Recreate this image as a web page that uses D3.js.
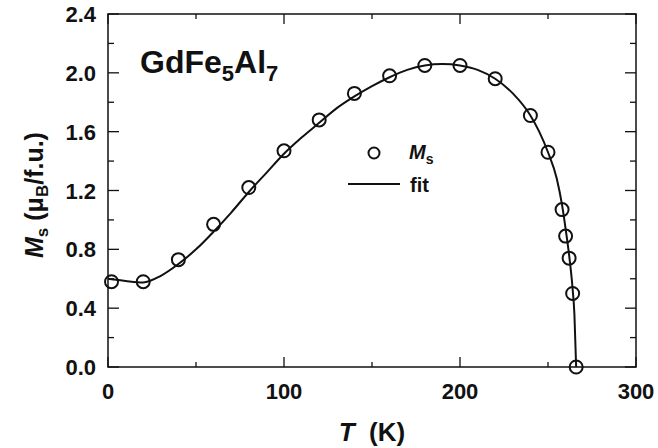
<!DOCTYPE html>
<html>
<head>
<meta charset="utf-8">
<script src="https://cdn.jsdelivr.net/npm/d3@7"></script>
<style>
  html, body { margin: 0; padding: 0; background: #fff; }
  svg { display: block; }
  text { font-family: "Liberation Sans", Arial, sans-serif; font-weight: bold; fill: #111; }
</style>
</head>
<body>
<svg id="chart" width="658" height="448"></svg>
<script>
// Saturation magnetisation of GdFe5Al7 versus temperature
const temps = [2, 20, 40, 60, 80, 100, 120, 140, 160, 180, 200, 220, 240, 250, 258, 260, 262, 264, 266];
const msValues = [0.58, 0.58, 0.73, 0.97, 1.22, 1.47, 1.68, 1.86, 1.98, 2.05, 2.05, 1.96, 1.71, 1.46, 1.07, 0.89, 0.74, 0.50, 0.00];

// Fitted curve
const fitT = [0, 10, 20, 30, 40, 50, 60, 70, 80, 90, 100, 110, 120, 130, 140, 150, 160, 170, 180, 190, 200, 210, 220, 230, 240, 245, 250, 255, 258, 260, 262, 264, 265, 266];
const fitM = [0.60, 0.585, 0.575, 0.62, 0.70, 0.80, 0.92, 1.05, 1.19, 1.32, 1.45, 1.56, 1.66, 1.76, 1.84, 1.91, 1.97, 2.02, 2.05, 2.06, 2.05, 2.02, 1.96, 1.86, 1.71, 1.60, 1.46, 1.28, 1.10, 0.94, 0.76, 0.53, 0.36, 0.00];

const xMajor = [0, 100, 200, 300];
const xMinor = [50, 150, 250];
const yMajor = [0, 0.4, 0.8, 1.2, 1.6, 2.0, 2.4];
const yMinor = [0.2, 0.6, 1.0, 1.4, 1.8, 2.2];

const svg = d3.select("#chart");
const plotL = 108, plotR = 636, plotT = 14, plotB = 367;

const x = d3.scaleLinear().domain([0, 300]).range([plotL, plotR]);
const y = d3.scaleLinear().domain([0, 2.4]).range([plotB, plotT]);

const ink = "#111";

// frame
svg.append("rect")
  .attr("x", plotL).attr("y", plotT)
  .attr("width", plotR - plotL).attr("height", plotB - plotT)
  .attr("fill", "none").attr("stroke", ink).attr("stroke-width", 1.5);

// inward ticks on all four sides
const tickG = svg.append("g").attr("stroke", ink).attr("stroke-width", 1.3);
function xTicks(vals, len) {
  vals.forEach(v => {
    tickG.append("line").attr("x1", x(v)).attr("x2", x(v)).attr("y1", plotB).attr("y2", plotB - len);
    tickG.append("line").attr("x1", x(v)).attr("x2", x(v)).attr("y1", plotT).attr("y2", plotT + len);
  });
}
function yTicks(vals, len) {
  vals.forEach(v => {
    tickG.append("line").attr("x1", plotL).attr("x2", plotL + len).attr("y1", y(v)).attr("y2", y(v));
    tickG.append("line").attr("x1", plotR).attr("x2", plotR - len).attr("y1", y(v)).attr("y2", y(v));
  });
}
xTicks(xMajor, 10); xTicks(xMinor, 5);
yTicks(yMajor, 11); yTicks(yMinor, 6);

// tick labels
svg.append("g").selectAll("text").data(xMajor).join("text")
  .attr("x", d => x(d)).attr("y", 399)
  .attr("text-anchor", "middle").attr("font-size", 22)
  .text(d => d);
svg.append("g").selectAll("text").data(yMajor).join("text")
  .attr("x", 96).attr("y", d => y(d) + 8)
  .attr("text-anchor", "end").attr("font-size", 22)
  .text(d => d.toFixed(1));

// axis titles
const xt = svg.append("text").attr("x", 372).attr("y", 441)
  .attr("text-anchor", "middle").attr("font-size", 26);
xt.append("tspan").attr("font-style", "italic").text("T");
xt.append("tspan").text("\u00a0 (K)");

const yt = svg.append("text")
  .attr("transform", "translate(43,195) rotate(-90)")
  .attr("text-anchor", "middle").attr("font-size", 25);
yt.append("tspan").attr("font-style", "italic").text("M");
yt.append("tspan").attr("font-size", 17).attr("dy", 5).text("s");
yt.append("tspan").attr("dy", -5).text(" (\u03bc");
yt.append("tspan").attr("font-size", 17).attr("dy", 5).text("B");
yt.append("tspan").attr("dy", -5).text("/f.u.)");

// compound label
const title = svg.append("text").attr("x", 140).attr("y", 73).attr("font-size", 32);
title.append("tspan").text("GdFe");
title.append("tspan").attr("font-size", 22).attr("dy", 8).text("5");
title.append("tspan").attr("dy", -8).text("Al");
title.append("tspan").attr("font-size", 22).attr("dy", 8).text("7");

// fit curve
const line = d3.line().x((d, i) => x(fitT[i])).y(d => y(d)).curve(d3.curveMonotoneX);
svg.append("path").datum(fitM)
  .attr("d", line).attr("fill", "none").attr("stroke", ink).attr("stroke-width", 2);

// measured points
svg.append("g").selectAll("circle").data(msValues).join("circle")
  .attr("cx", (d, i) => x(temps[i])).attr("cy", d => y(d)).attr("r", 6.5)
  .attr("fill", "none").attr("stroke", ink).attr("stroke-width", 2);

// legend
svg.append("circle").attr("cx", 374).attr("cy", 153).attr("r", 5.5)
  .attr("fill", "none").attr("stroke", ink).attr("stroke-width", 2);
const lm = svg.append("text").attr("x", 409).attr("y", 159).attr("font-size", 20);
lm.append("tspan").attr("font-style", "italic").text("M");
lm.append("tspan").attr("font-size", 14).attr("dy", 5).text("s");
svg.append("line").attr("x1", 348).attr("x2", 400).attr("y1", 184).attr("y2", 184)
  .attr("stroke", ink).attr("stroke-width", 2);
svg.append("text").attr("x", 410).attr("y", 192).attr("font-size", 20).text("fit");
</script>
</body>
</html>
